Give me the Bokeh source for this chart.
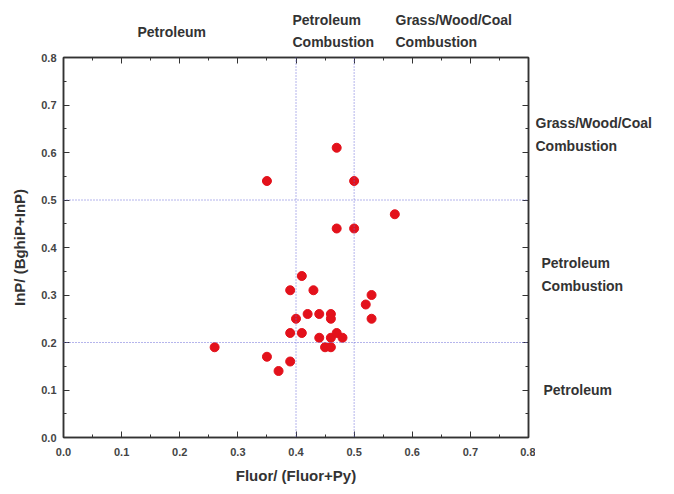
from bokeh.plotting import figure
from bokeh.layouts import column, row
from bokeh.models import (Span, NumeralTickFormatter, Range1d, FixedTicker, LinearAxis,
                          CustomJSTickFormatter)
from bokeh.core.properties import value
from bokeh.embed import file_html
from bokeh.resources import INLINE

# ---- data ----
fluor_ratio = [0.47, 0.35, 0.50, 0.57, 0.47, 0.50, 0.41, 0.39, 0.43, 0.53, 0.52, 0.53,
               0.40, 0.42, 0.44, 0.46, 0.46, 0.39, 0.41, 0.44, 0.46, 0.47, 0.48, 0.45,
               0.46, 0.35, 0.39, 0.37, 0.26]
inp_ratio = [0.61, 0.54, 0.54, 0.47, 0.44, 0.44, 0.34, 0.31, 0.31, 0.30, 0.28, 0.25,
             0.25, 0.26, 0.26, 0.26, 0.25, 0.22, 0.22, 0.21, 0.21, 0.22, 0.21, 0.19,
             0.19, 0.17, 0.16, 0.14, 0.19]
x_thresholds = [0.4, 0.5]
y_thresholds = [0.2, 0.5]
ticks = [0.0, 0.1, 0.2, 0.3, 0.4, 0.5, 0.6, 0.7, 0.8]
top_texts = ["Petroleum", "Petroleum", "Combustion", "Grass/Wood/Coal", "Combustion"]
right_texts = ["Grass/Wood/Coal", "Combustion", "Petroleum", "Combustion", "Petroleum"]

FONT = "Liberation Sans"
TOP_H = 49
MAIN_W, MAIN_H = 535, 441
RIGHT_W = 666 - MAIN_W

# ---- main plot ----
p = figure(width=MAIN_W, height=MAIN_H, output_backend="svg", toolbar_location=None,
           x_range=Range1d(0, 0.8), y_range=Range1d(0, 0.8),
           min_border_left=63, min_border_top=8, min_border_right=7, min_border_bottom=53)
p.grid.visible = False
p.outline_line_color = "#333333"
p.outline_line_width = 1.5

minor = [t + 0.05 for t in ticks[:-1]]
p.add_layout(LinearAxis(), "above")
p.add_layout(LinearAxis(), "right")
for ax in p.axis:
    ax.ticker = FixedTicker(ticks=ticks, minor_ticks=minor)
    ax.formatter = NumeralTickFormatter(format="0.0")
    ax.major_tick_in = 6
    ax.major_tick_out = 0
    ax.minor_tick_in = 3
    ax.minor_tick_out = 0
    ax.axis_line_color = "#333333"
    ax.axis_line_width = 1.5
    ax.major_tick_line_color = "#333333"
    ax.minor_tick_line_color = "#333333"
    ax.major_label_text_font = FONT
    ax.major_label_text_font_style = "bold"
    ax.major_label_text_font_size = "11px"
    ax.major_label_text_color = "#444444"
    ax.axis_label_text_font = FONT
    ax.axis_label_text_font_style = "bold"
    ax.axis_label_text_font_size = "15px"
    ax.axis_label_text_color = "#333333"

for ax in (p.above[0], p.right[0]):
    ax.formatter = CustomJSTickFormatter(code="return ''")
    ax.major_label_text_font_size = "1px"
    ax.major_label_standoff = 0

p.below[0].axis_label = "Fluor/ (Fluor+Py)"
p.left[0].axis_label = "InP/ (BghiP+InP)"
p.below[0].major_label_standoff = 10
p.left[0].major_label_standoff = 7
p.below[0].axis_label_standoff = 8
p.left[0].axis_label_standoff = 10

for xv in x_thresholds:
    p.add_layout(Span(location=xv, dimension="height", line_color="#6a6ad8",
                      line_dash="1 2", line_width=1))
for yv in y_thresholds:
    p.add_layout(Span(location=yv, dimension="width", line_color="#6a6ad8",
                      line_dash="1 2", line_width=1))

p.scatter(fluor_ratio, inp_ratio, size=9, color="#e3111b", line_color="#e3111b")


# ---- annotation strips (outside the plot frame) ----
def strip(w, h, y_range):
    f = figure(width=w, height=h, output_backend="svg", toolbar_location=None,
               x_range=Range1d(0, w), y_range=y_range,
               x_axis_type=None, y_axis_type=None, min_border=0)
    f.outline_line_color = None
    return f


text_kw = dict(text_font=value(FONT), text_font_style="bold", text_font_size="14px",
               text_color="#333333", text_baseline="middle", text_align="left")

top = strip(MAIN_W + RIGHT_W, TOP_H, Range1d(TOP_H, 0))
top.text(x=[137, 292, 292, 395, 395], y=[31, 19, 41, 19, 41], text=top_texts, **text_kw)

# right strip shares the plot's y scale (its frame is aligned with the plot frame)
right = strip(RIGHT_W, MAIN_H, p.y_range)
right.text(x=[0, 0, 6, 6, 8], y=[0.663, 0.613, 0.367, 0.32, 0.10], text=right_texts,
           **text_kw)

layout = column(top, row(p, right, spacing=0), spacing=0)
open("out.html", "w").write(file_html(layout, INLINE))
